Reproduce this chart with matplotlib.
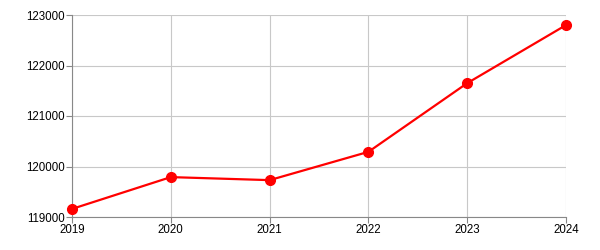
import matplotlib
matplotlib.use("Agg")
import matplotlib.pyplot as plt

years = [2019, 2020, 2021, 2022, 2023, 2024]
values = [119160, 119790, 119730, 120290, 121650, 122800]
yticks = [119000, 120000, 121000, 122000, 123000]

plt.rcParams['font.family'] = ['Liberation Sans', 'DejaVu Sans']
fig = plt.figure(figsize=(6, 2.5), dpi=100)
ax = fig.add_axes([0.12, 0.132, 0.8233, 0.808])
ax.plot(years, values, color='#ff0000', linewidth=1.6, marker='o', markersize=7, zorder=3, clip_on=False)
ax.set_xlim(2019, 2024)
ax.set_ylim(119000, 123000)
ax.set_xticks(years)
ax.set_xticklabels([str(y) for y in years])
ax.set_yticks(yticks)
ax.set_yticklabels([str(v) for v in yticks])
ax.grid(True, color='#c8c8c8', linewidth=0.8)
for s in ['top', 'right']:
    ax.spines[s].set_visible(False)
for s in ['left', 'bottom']:
    ax.spines[s].set_color('#888888')
    ax.spines[s].set_linewidth(0.8)
ax.tick_params(axis='both', colors='#888888', labelcolor='black', labelsize=8.3, length=4, width=0.8, pad=1)
fig.savefig('out.png', dpi=100)
